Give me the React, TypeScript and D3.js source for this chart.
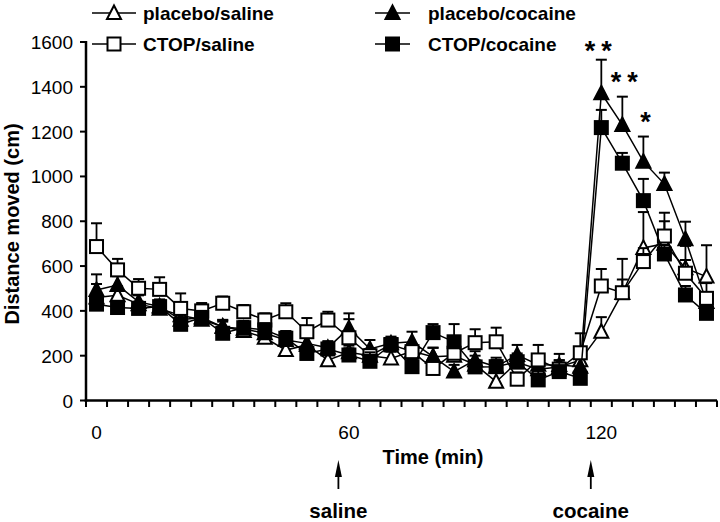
import React from 'react';
import * as d3 from 'd3';

// time points (min)
const times = [0, 5, 10, 15, 20, 25, 30, 35, 40, 45, 50, 55, 60, 65, 70, 75, 80, 85, 90, 95, 100, 105, 110, 115, 120, 125, 130, 135, 140, 145];

const placeboSaline = [460, 470, 430, 410, 380, 360, 330, 310, 280, 225, 248, 180, 215, 200, 188, 220, 195, 200, 160, 84, 170, 140, 150, 180, 307, 480, 681, 700, 590, 553];
const placeboSalineErr = [60, 40, 40, 40, 40, 30, 30, 30, 30, 40, 40, 40, 30, 30, 30, 30, 40, 40, 40, 40, 40, 30, 30, 30, 65, 60, 160, 100, 100, 140];

const placeboCocaine = [493, 515, 440, 420, 360, 370, 328, 320, 300, 270, 255, 235, 323, 230, 255, 262, 196, 129, 180, 151, 203, 160, 158, 151, 1371, 1230, 1066, 966, 720, 440];
const placeboCocaineErr = [70, 40, 30, 30, 40, 30, 30, 30, 40, 40, 40, 30, 40, 40, 30, 45, 40, 30, 40, 40, 45, 40, 50, 40, 150, 126, 112, 51, 78, 40];

const ctopSaline = [687, 583, 501, 496, 411, 400, 434, 396, 359, 396, 307, 359, 280, 200, 250, 218, 143, 211, 258, 262, 95, 181, 140, 213, 511, 481, 620, 734, 568, 456];
const ctopSalineErr = [104, 49, 41, 54, 67, 35, 30, 30, 30, 38, 61, 37, 109, 30, 30, 30, 30, 30, 60, 63, 30, 67, 30, 87, 76, 151, 60, 104, 59, 68];

const ctopCocaine = [430, 415, 411, 419, 340, 370, 300, 325, 315, 278, 210, 230, 203, 175, 248, 151, 303, 262, 150, 151, 173, 92, 129, 99, 1218, 1059, 892, 654, 471, 389];
const ctopCocaineErr = [40, 30, 30, 30, 30, 30, 52, 30, 30, 30, 30, 30, 30, 40, 30, 30, 38, 79, 30, 30, 30, 40, 50, 30, 79, 46, 97, 40, 40, 30];

const yTicks = [0, 200, 400, 600, 800, 1000, 1200, 1400, 1600];
const xLabels = [0, 60, 120];

// significance marks over placebo/cocaine
const sigTimes = [120, 125, 130];
const sigMarks = ['**', '**', '*'];

// injection arrows
const injections = [
  { time: 57.5, label: 'saline' },
  { time: 117.5, label: 'cocaine' },
];

type Marker = 'triangle' | 'square';
const series = [
  { name: 'placebo/saline', values: placeboSaline, err: placeboSalineErr, marker: 'triangle' as Marker, filled: false },
  { name: 'placebo/cocaine', values: placeboCocaine, err: placeboCocaineErr, marker: 'triangle' as Marker, filled: true },
  { name: 'CTOP/saline', values: ctopSaline, err: ctopSalineErr, marker: 'square' as Marker, filled: false },
  { name: 'CTOP/cocaine', values: ctopCocaine, err: ctopCocaineErr, marker: 'square' as Marker, filled: true },
];

const font = '"Liberation Sans", Arial, sans-serif';

function Symbol({ cx, cy, marker, filled }: { cx: number; cy: number; marker: Marker; filled: boolean }) {
  const fill = filled ? '#000' : '#fff';
  if (marker === 'square') {
    return <rect x={cx - 6.5} y={cy - 6.5} width={13} height={13} fill={fill} stroke="#000" strokeWidth={2} />;
  }
  return <path d={`M${cx},${cy - 7.5}L${cx + 7},${cy + 6}L${cx - 7},${cy + 6}Z`} fill={fill} stroke="#000" strokeWidth={2} strokeLinejoin="miter" />;
}

export default function App() {
  const x = d3.scaleLinear().domain([-2.5, 147.5]).range([86, 717]);
  const y = d3.scaleLinear().domain([0, 1600]).range([400.5, 42]);
  const boundaries = d3.range(-2.5, 150, 5);

  const line = d3.line<number>()
    .x((_, i) => x(times[i]))
    .y(d => y(d));

  return (
    <svg width={720} height={522} style={{ position: 'absolute', left: 0, top: 0, background: '#fff' }} fontFamily={font}>
      <rect width={720} height={522} fill="#fff" />

      {/* series */}
      {series.map(s => (
        <g key={s.name}>
          <path d={line(s.values) || ''} fill="none" stroke="#000" strokeWidth={1.5} />
          {s.values.map((v, i) => (
            <g key={i}>
              <line x1={x(times[i])} x2={x(times[i])} y1={y(v)} y2={y(v + s.err[i])} stroke="#000" strokeWidth={1.8} />
              <line x1={x(times[i]) - 5.5} x2={x(times[i]) + 5.5} y1={y(v + s.err[i])} y2={y(v + s.err[i])} stroke="#000" strokeWidth={2} />
            </g>
          ))}
          {s.values.map((v, i) => (
            <Symbol key={i} cx={x(times[i])} cy={y(v)} marker={s.marker} filled={s.filled} />
          ))}
        </g>
      ))}

      {/* y axis */}
      <line x1={86} x2={86} y1={y(1600) - 1} y2={y(0) + 1.5} stroke="#000" strokeWidth={2.5} />
      {yTicks.map(t => (
        <g key={t}>
          <line x1={80} x2={86} y1={y(t)} y2={y(t)} stroke="#000" strokeWidth={2} />
          <text x={73} y={y(t) + 7} textAnchor="end" fontSize={19}>{t}</text>
        </g>
      ))}

      {/* x axis */}
      <line x1={84.75} x2={717} y1={y(0)} y2={y(0)} stroke="#000" strokeWidth={2.5} />
      {boundaries.map(b => (
        <line key={b} x1={x(b)} x2={x(b)} y1={y(0)} y2={y(0) + 6.5} stroke="#000" strokeWidth={2} />
      ))}
      {xLabels.map(t => (
        <text key={t} x={x(t)} y={439} textAnchor="middle" fontSize={19}>{t}</text>
      ))}

      <text x={433} y={464} textAnchor="middle" fontSize={20} fontWeight="bold">Time (min)</text>
      <text transform="translate(19,224) rotate(-90)" textAnchor="middle" fontSize={20} fontWeight="bold">Distance moved (cm)</text>

      {/* injection arrows */}
      {injections.map(a => (
        <g key={a.label}>
          <line x1={x(a.time)} x2={x(a.time)} y1={474} y2={489} stroke="#000" strokeWidth={1.8} />
          <path d={`M${x(a.time)},${460}L${x(a.time) + 3.5},${477}L${x(a.time) - 3.5},${477}Z`} fill="#000" />
          <text x={x(a.time)} y={518} textAnchor="middle" fontSize={20.5} fontWeight="bold">{a.label}</text>
        </g>
      ))}

      {/* significance */}
      {sigTimes.map((t, k) => {
        const i = times.indexOf(t);
        const top = y(placeboCocaine[i] + placeboCocaineErr[i]);
        return (
          <text key={t} x={x(t) + (k === 0 ? 0 : 5)} y={top - (k === 0 ? 0 : 6)} textAnchor="middle" fontSize={27} fontWeight="bold" letterSpacing={6}>
            {sigMarks[k]}
          </text>
        );
      })}

      {/* legend */}
      {series.map((s, k) => {
        const col = k % 2 === 0 ? 0 : 1;
        const row = k < 2 ? 0 : 1;
        const x0 = col === 0 ? 92 : 375;
        const x1 = col === 0 ? 136 : 410;
        const cy = row === 0 ? 13 : 44;
        const tx = col === 0 ? 143 : 428;
        return (
          <g key={s.name}>
            <line x1={x0} x2={x1} y1={cy} y2={cy} stroke="#000" strokeWidth={1.5} />
            <Symbol cx={(x0 + x1) / 2} cy={cy} marker={s.marker} filled={s.filled} />
            <text x={tx} y={cy + 7} fontSize={19} fontWeight="bold">{s.name}</text>
          </g>
        );
      })}
    </svg>
  );
}
